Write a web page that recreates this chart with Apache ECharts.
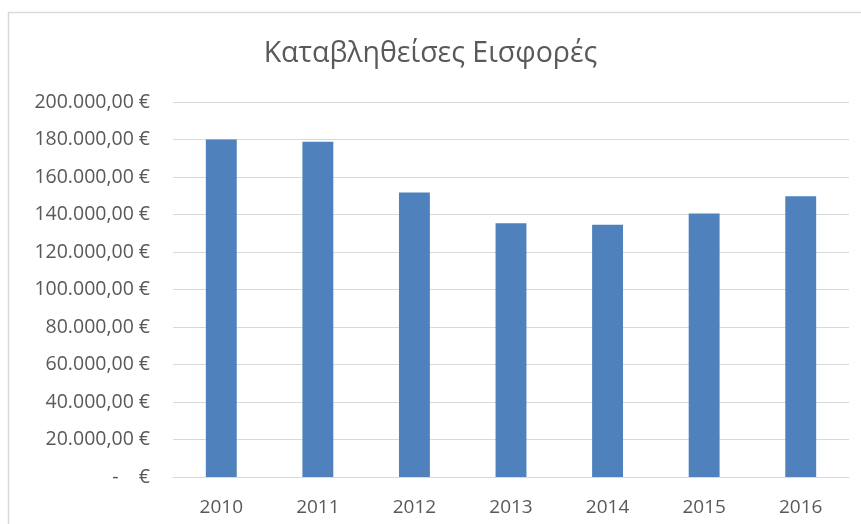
<!DOCTYPE html>
<html><head><meta charset="utf-8">
<script src="https://cdn.jsdelivr.net/npm/echarts@6/dist/echarts.min.js"></script>
<style>html,body{margin:0;padding:0;background:#fff}#c{width:861px;height:524px}</style>
</head><body><div id="c"></div>
<script>
var title = 'Καταβληθείσες Εισφορές';
var years = ['2010','2011','2012','2013','2014','2015','2016'];
var contributions = [180000, 178800, 151800, 135300, 134600, 140600, 149800];

function fmt(v){
  if (v === 0) return '-    €';
  var s = Math.round(v).toString().replace(/\B(?=(\d{3})+(?!\d))/g, '.');
  return s + ',00 €';
}
var FONT = 'Open Sans';
var chart = echarts.init(document.getElementById('c'), null, {renderer:'canvas'});
chart.setOption({
  animation:false,
  backgroundColor:'#fff',
  title:{text:title,left:'center',top:34,textStyle:{fontFamily:FONT,fontSize:28.5,fontWeight:'normal',color:'#595959'}},
  graphic:[{type:'polyline',shape:{points:[[8.5,600],[8.5,12.5],[900,12.5]]},style:{stroke:'#d9d9d9',lineWidth:1.5,fill:null},silent:true}],
  grid:{left:173,right:12,top:102,bottom:47},
  xAxis:{type:'category',data:years,
    axisLine:{show:true,lineStyle:{color:'#d9d9d9'}},axisTick:{show:false},
    axisLabel:{fontFamily:FONT,fontSize:19,color:'#595959',margin:21}},
  yAxis:{type:'value',min:0,max:200000,interval:20000,
    axisLine:{show:false},axisTick:{show:false},
    splitLine:{lineStyle:{color:'#d9d9d9',width:1}},
    axisLabel:{fontFamily:FONT,fontSize:19.5,color:'#595959',margin:23,formatter:fmt}},
  series:[{type:'bar',data:contributions,barWidth:'32%',itemStyle:{color:'#4f81bd'}}]
});
</script></body></html>
